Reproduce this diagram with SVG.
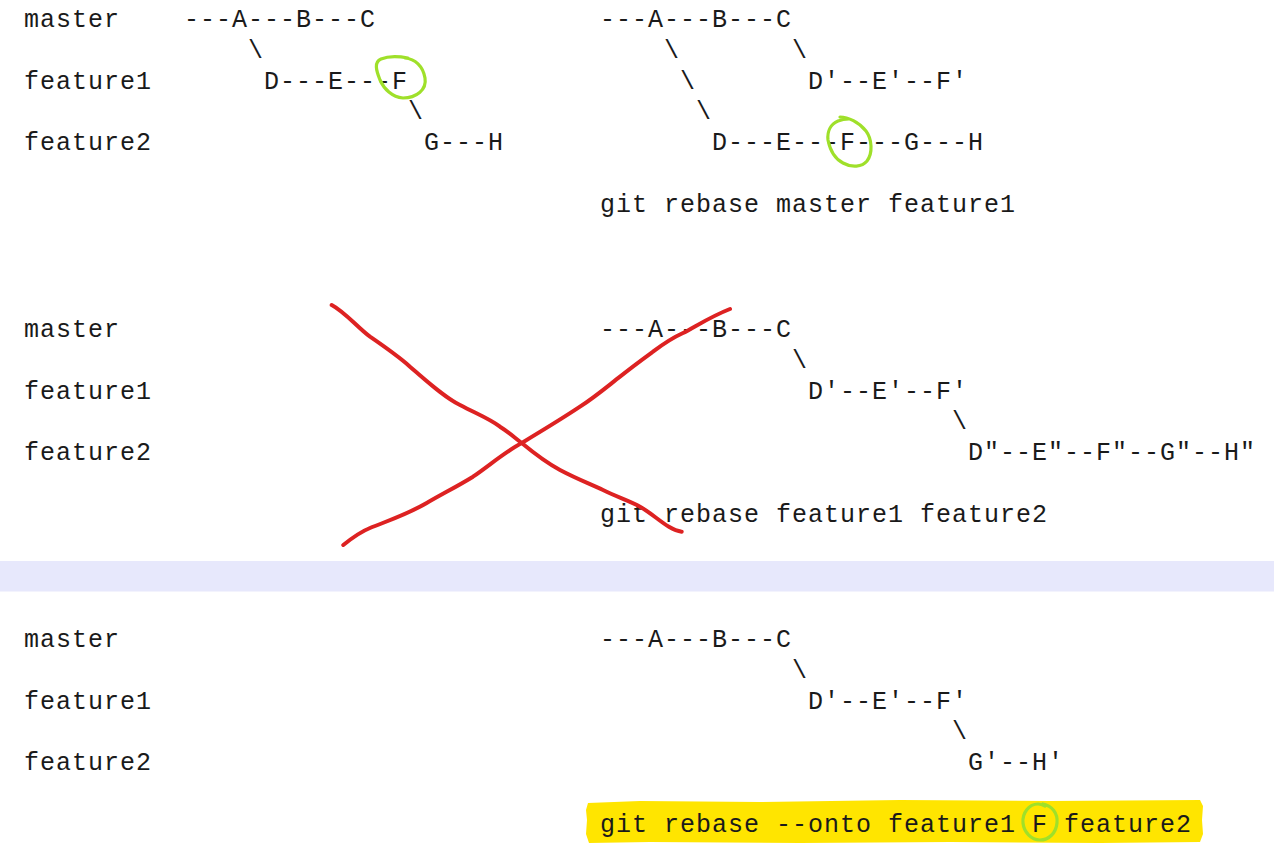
<svg xmlns="http://www.w3.org/2000/svg" width="1274" height="845" viewBox="0 0 1274 845">
  <style>
    .t { font-family: "Liberation Mono", "DejaVu Sans Mono", monospace; font-size: 25px; letter-spacing: 1px; fill: #1a1a1a; white-space: pre; }
    .green { fill: none; stroke: #9fe02a; stroke-width: 3.2; stroke-linecap: round; stroke-linejoin: round; }
    .red { fill: none; stroke: #dd2222; stroke-width: 4; stroke-linecap: round; stroke-linejoin: round; }
  </style>
  <rect x="0" y="0" width="1274" height="845" fill="#ffffff"/>

  <!-- Section 1 -->
  <g id="section1">
    <g id="labels1">
      <text class="t" x="24" y="27">master</text>
      <text class="t" x="24" y="88.5">feature1</text>
      <text class="t" x="24" y="150">feature2</text>
    </g>
    <g id="before">
      <text class="t" x="184" y="27">---A---B---C</text>
      <text class="t" x="248" y="57.75">\</text>
      <text class="t" x="264" y="88.5">D---E---F</text>
      <text class="t" x="408" y="119.25">\</text>
      <text class="t" x="424" y="150">G---H</text>
      <path class="green" d="M405,58 C415,59 423,66 425,78 C427,90 416,98 403,98 C392,97 384,89 380,80 C376,70 374,62 381,59 C388,56 398,56 408,58"/>
    </g>
    <g id="after1">
      <text class="t" x="600" y="27">---A---B---C</text>
      <text class="t" x="664" y="57.75">\</text>
      <text class="t" x="792" y="57.75">\</text>
      <text class="t" x="680" y="88.5">\</text>
      <text class="t" x="808" y="88.5">D'--E'--F'</text>
      <text class="t" x="696" y="119.25">\</text>
      <text class="t" x="712" y="150">D---E---F---G---H</text>
      <path class="green" d="M840,117 C848,117 859,122 866,131 C872,139 873,153 867,161 C862,167 852,168 843,163 C835,159 830,150 828,140 C827,131 831,124 838,121 C843,119 846,119 849,119"/>
      <text class="t" x="600" y="211.5">git rebase master feature1</text>
    </g>
  </g>

  <!-- Section 2 -->
  <g id="section2" transform="translate(0,310)">
    <g id="labels2">
      <text class="t" x="24" y="27">master</text>
      <text class="t" x="24" y="88.5">feature1</text>
      <text class="t" x="24" y="150">feature2</text>
    </g>
    <g id="after2">
      <text class="t" x="600" y="27">---A---B---C</text>
      <text class="t" x="792" y="57.75">\</text>
      <text class="t" x="808" y="88.5">D'--E'--F'</text>
      <text class="t" x="952" y="119.25">\</text>
      <text class="t" x="968" y="150">D"--E"--F"--G"--H"</text>
      <text class="t" x="600" y="211.5">git rebase feature1 feature2</text>
    </g>
  </g>
  <g id="cross">
    <path class="red" d="M331.7,305 C345,312 358,328 370,336.7 C385,347 398,356 410,366.7 C428,382 444,397 460,405 C477,414 490,419 500,426.7 C510,433 515,438 521.7,443 C535,454 547,463 560,470 C575,478 590,484 603,490 C617,497 630,501 640,506.7 C655,515 668,530 681.7,531.7"/>
    <path class="red" d="M343.3,545 C352,538 360,532 370,528 C390,520 408,514 426.7,503 C442,494 458,486 473,476.7 C490,465 505,452 521.7,443 C540,432 560,420 580,406.7 C595,397 608,386 620,376.7 C632,367 643,359 653,351.7 C663,344 672,338 683,333 C698,325 712,316 730,309"/>
  </g>

  <!-- Separator band -->
  <rect id="separator" x="0" y="561" width="1274" height="30.5" fill="#e7e8fc"/>

  <!-- Section 3 -->
  <g id="section3" transform="translate(0,620)">
    <g id="labels3">
      <text class="t" x="24" y="27">master</text>
      <text class="t" x="24" y="88.5">feature1</text>
      <text class="t" x="24" y="150">feature2</text>
    </g>
    <g id="after3">
      <text class="t" x="600" y="27">---A---B---C</text>
      <text class="t" x="792" y="57.75">\</text>
      <text class="t" x="808" y="88.5">D'--E'--F'</text>
      <text class="t" x="952" y="119.25">\</text>
      <text class="t" x="968" y="150">G'--H'</text>
      <path d="M588,183 L640,181 L760,182 L900,180 L1050,181 L1200,180 L1203,186 L1202,200 L1203,214 L1200,222 L1100,223 L950,222 L800,223 L650,222 L589,223 L586,214 L587,200 L586,190 Z" fill="#ffe500"/>
      <text class="t" x="600" y="211.5">git rebase --onto feature1 F feature2</text>
      <path class="green" d="M1043,184 C1052,186 1058,193 1057,203 C1056,213 1049,220 1040,220 C1031,220 1024,212 1023,203 C1022,193 1029,184 1038,184 C1041,184 1043,185 1045,186"/>
    </g>
  </g>
</svg>
